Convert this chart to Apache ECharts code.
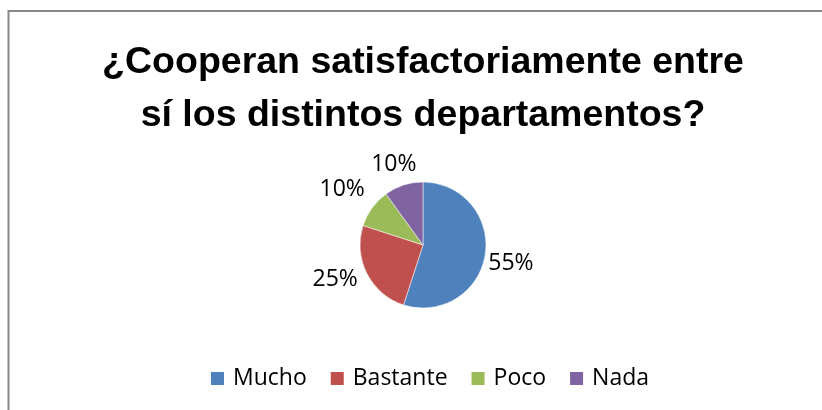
<!DOCTYPE html>
<html><head><meta charset="utf-8">
<script src="https://cdn.jsdelivr.net/npm/echarts@6/dist/echarts.min.js"></script>
<style>html,body{margin:0;padding:0;background:#fff}#c{width:822px;height:410px}</style>
</head><body><div id="c"></div>
<script>
var categories = ['Mucho', 'Bastante', 'Poco', 'Nada'];
var values = [55, 25, 10, 10];
var colors = ['#4F81BD', '#C0504D', '#9BBB59', '#8064A2'];
var titleText = '¿Cooperan satisfactoriamente entre\nsí los distintos departamentos?';
// small nudges so the outside labels sit where the reference places them
var labelNudges = [[0, 9], [-6, 6], [-6, -20], [16, -21]];

var chart = echarts.init(document.getElementById('c'), null, {renderer: 'canvas'});
chart.setOption({
  animation: false,
  color: colors,
  graphic: [{
    type: 'rect', shape: {x: 8.5, y: 11, width: 900, height: 500},
    style: {fill: 'none', stroke: '#888', lineWidth: 2}
  }],
  title: {
    text: titleText, left: 418, textAlign: 'center', top: 31,
    textStyle: {fontFamily: 'Liberation Sans', fontWeight: 'bold', fontSize: 37.5, lineHeight: 53, color: '#000'}
  },
  legend: {
    data: categories, top: 362, left: 204, itemWidth: 15, itemHeight: 15, itemGap: 22,
    icon: 'rect',
    textStyle: {fontFamily: 'Open Sans', fontSize: 23, color: '#000', padding: [0, 0, 0, 3]}
  },
  series: [{
    type: 'pie', center: [423, 245], radius: 63, startAngle: 90, clockwise: true,
    data: categories.map(function (c, i) {
      return {name: c, value: values[i], label: {offset: labelNudges[i]}};
    }),
    itemStyle: {borderColor: '#fff', borderWidth: 0.5},
    label: {show: true, position: 'outside', formatter: '{d}%', fontFamily: 'Open Sans', fontSize: 23, color: '#000', distanceToLabelLine: 3},
    labelLine: {show: false, length: 0, length2: 0}
  }]
});
</script></body></html>
